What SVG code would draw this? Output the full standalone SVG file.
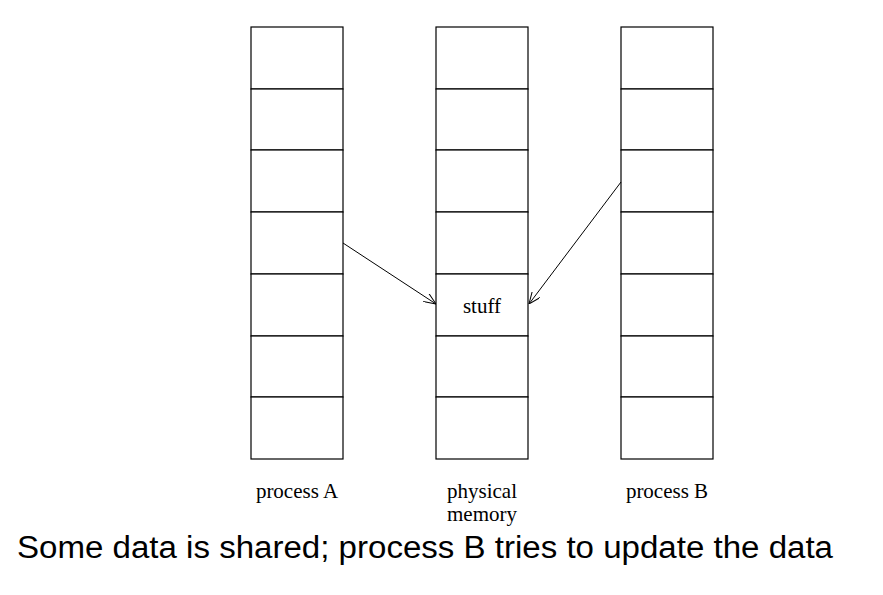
<svg xmlns="http://www.w3.org/2000/svg" width="883" height="595" viewBox="0 0 883 595">
<style>
.cell{fill:#fff;stroke:#000;stroke-width:1.2}
.lbl{font-family:"Liberation Serif",serif;font-size:21px;fill:#000;text-anchor:middle}
.edge{stroke:#000;stroke-width:1;fill:none}
.cap{font-family:"Liberation Sans",Arial,sans-serif;font-size:31px;fill:#000}
</style>
<defs>
<marker id="arr" viewBox="0 0 12 10" refX="12" refY="5" markerWidth="12" markerHeight="10" markerUnits="userSpaceOnUse" orient="auto">
<path d="M0,0 L12,5 L0,10" fill="none" stroke="#000" stroke-width="1"/>
</marker>
</defs>
<rect width="883" height="595" fill="#fff"/>
<g id="processA">
<rect class="cell" x="251" y="27" width="92" height="62"/>
<rect class="cell" x="251" y="89" width="92" height="61"/>
<rect class="cell" x="251" y="150" width="92" height="62"/>
<rect class="cell" x="251" y="212" width="92" height="62"/>
<rect class="cell" x="251" y="274" width="92" height="62"/>
<rect class="cell" x="251" y="336" width="92" height="61"/>
<rect class="cell" x="251" y="397" width="92" height="62"/>
<text class="lbl" x="297" y="498">process A</text>
</g>
<g id="memory">
<rect class="cell" x="436" y="27" width="92" height="62"/>
<rect class="cell" x="436" y="89" width="92" height="61"/>
<rect class="cell" x="436" y="150" width="92" height="62"/>
<rect class="cell" x="436" y="212" width="92" height="62"/>
<rect class="cell" x="436" y="274" width="92" height="62"/>
<rect class="cell" x="436" y="336" width="92" height="61"/>
<rect class="cell" x="436" y="397" width="92" height="62"/>
<text class="lbl" x="482" y="313">stuff</text>
<text class="lbl" x="482" y="498">physical</text>
<text class="lbl" x="482" y="521">memory</text>
</g>
<g id="processB">
<rect class="cell" x="621" y="27" width="92" height="62"/>
<rect class="cell" x="621" y="89" width="92" height="61"/>
<rect class="cell" x="621" y="150" width="92" height="62"/>
<rect class="cell" x="621" y="212" width="92" height="62"/>
<rect class="cell" x="621" y="274" width="92" height="62"/>
<rect class="cell" x="621" y="336" width="92" height="61"/>
<rect class="cell" x="621" y="397" width="92" height="62"/>
<text class="lbl" x="667" y="498">process B</text>
</g>
<g id="connectors">
<line class="edge" x1="343" y1="243" x2="436" y2="304" marker-end="url(#arr)"/>
<line class="edge" x1="621" y1="182" x2="529" y2="304" marker-end="url(#arr)"/>
</g>
<text class="cap" x="17" y="558" textLength="816" lengthAdjust="spacingAndGlyphs">Some data is shared; process B tries to update the data</text>
</svg>
